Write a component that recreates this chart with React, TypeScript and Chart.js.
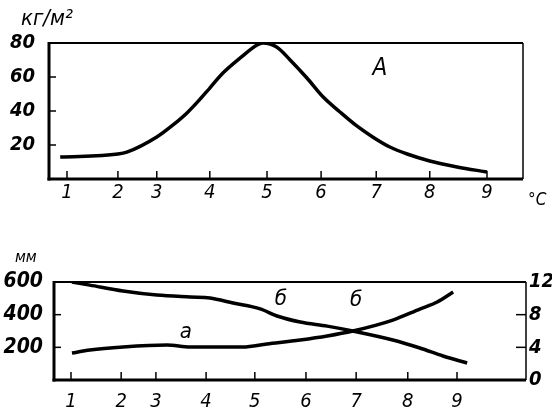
import { useEffect, useRef } from 'react';
import { Chart, registerables } from 'chart.js';
Chart.register(...registerables);

const FONT = '"Liberation Sans Narrow", "DejaVu Sans Condensed", Roboto, sans-serif';

const xTickLabels = ['1', '2', '3', '4', '5', '6', '7', '8', '9'];
const topTickPos = [1, 1.97, 2.71, 3.72, 4.81, 5.84, 6.89, 7.91, 9];
const bottomTickPos = [1, 2.04, 2.76, 3.8, 4.81, 5.87, 6.91, 7.98, 9];

const curveAX = [0.87, 1.97, 2.14, 2.71, 3.02, 3.29, 3.53, 3.72, 3.97, 4.3, 4.62, 4.73, 5.0, 5.25, 5.57, 5.88, 6.2, 6.52, 6.83, 7.15, 7.48, 7.91, 8.43, 9.0];
const curveAY = [12.9, 14.7, 15.8, 24.7, 31.8, 39.0, 46.8, 53.5, 62.3, 71.2, 78.8, 80, 77.5, 70, 59.4, 48.2, 39.4, 31.2, 24.6, 18.8, 14.7, 10.6, 7.1, 4.1];

const curveBX = [1.02, 1.39, 2.08, 2.78, 3.47, 3.88, 4.36, 4.92, 5.27, 5.75, 6.31, 6.84, 7.67, 8.23, 8.71, 9.21];
const curveBY = [600, 581, 545, 520, 508, 502, 471, 435, 392, 355, 330, 300, 245, 196, 147, 104];

const curveCX = [1.02, 1.39, 2.08, 2.99, 3.47, 3.88, 4.56, 5.06, 5.75, 6.31, 6.84, 7.67, 8.23, 8.59, 8.92];
const curveCY = [3.3, 3.67, 4.04, 4.28, 4.04, 4.04, 4.04, 4.41, 4.9, 5.39, 6.0, 7.34, 8.69, 9.55, 10.77];

const topLeftTicks = [20, 40, 60, 80];
const botLeftTicks = [200, 400, 600];
const botRightTicks = [0, 4, 8, 12];

type Note = { t: string; x: number; y: number; axis: string; size: number };
type Fixed = { t: string; px: number; py: number; size: number };

function makeOverlay(notes: Note[], fixed: Fixed[], hasRight: boolean) {
  return {
    id: 'overlay',
    afterDraw(chart: any) {
      const { ctx, chartArea: a, scales } = chart;
      const line = (x1: number, y1: number, x2: number, y2: number, w: number) => {
        ctx.lineWidth = w;
        ctx.beginPath();
        ctx.moveTo(x1, y1);
        ctx.lineTo(x2, y2);
        ctx.stroke();
      };
      ctx.save();
      ctx.strokeStyle = '#000';
      ctx.fillStyle = '#000';
      line(a.left, a.top, a.right, a.top, 2);
      line(a.right, a.top, a.right, a.bottom, 1.5);
      line(a.left, a.top - 1, a.left, a.bottom + 1.5, 3);
      line(a.left - 1.5, a.bottom, a.right, a.bottom, 3);
      scales.x.ticks.forEach((t: any) => {
        const px = scales.x.getPixelForValue(t.value);
        line(px, a.bottom, px, a.bottom - 8, 1.5);
      });
      scales.y.ticks.forEach((t: any) => {
        const py = scales.y.getPixelForValue(t.value);
        line(a.left, py, a.left + 7, py, 1.5);
      });
      if (hasRight && scales.y2) {
        scales.y2.ticks.forEach((t: any) => {
          const py = scales.y2.getPixelForValue(t.value);
          line(a.right, py, a.right - 10, py, 1.5);
        });
      }
      ctx.textAlign = 'center';
      ctx.textBaseline = 'middle';
      notes.forEach((n) => {
        ctx.font = `italic ${n.size}px ${FONT}`;
        ctx.fillText(n.t, scales.x.getPixelForValue(n.x), scales[n.axis].getPixelForValue(n.y));
      });
      ctx.textAlign = 'left';
      fixed.forEach((f) => {
        ctx.font = `italic ${f.size}px ${FONT}`;
        ctx.fillText(f.t, f.px, f.py);
      });
      ctx.restore();
    },
  };
}

function xScale(pos: number[], min: number, max: number, height: number, pad: number) {
  return {
    type: 'linear' as const,
    min,
    max,
    afterBuildTicks: (s: any) => {
      s.ticks = pos.map((v) => ({ value: v }));
    },
    afterFit: (s: any) => {
      s.height = height;
    },
    grid: { display: false, drawTicks: false },
    border: { display: false },
    ticks: {
      autoSkip: false,
      maxRotation: 0,
      padding: pad,
      color: '#000',
      font: { family: FONT, size: 20, style: 'italic' as const },
      callback: (_v: any, i: number) => xTickLabels[i],
    },
  };
}

function yScale(vals: number[], min: number, max: number, width: number, pad: number, position: 'left' | 'right', size: number) {
  return {
    type: 'linear' as const,
    position,
    min,
    max,
    afterBuildTicks: (s: any) => {
      s.ticks = vals.map((v) => ({ value: v }));
    },
    afterFit: (s: any) => {
      s.width = width;
    },
    grid: { display: false, drawTicks: false },
    border: { display: false },
    ticks: {
      padding: pad,
      color: '#000',
      font: { family: FONT, size, style: 'italic' as const, weight: 'bold' as const },
    },
  };
}

const lineStyle = {
  borderColor: '#000',
  borderWidth: 3.5,
  pointRadius: 0,
  cubicInterpolationMode: 'monotone' as const,
  fill: false,
};

export default function App() {
  const topRef = useRef<HTMLCanvasElement>(null);
  const botRef = useRef<HTMLCanvasElement>(null);

  useEffect(() => {
    const c1 = new Chart(topRef.current!, {
      type: 'line',
      data: {
        datasets: [
          { ...lineStyle, data: curveAX.map((x, i) => ({ x, y: curveAY[i] })) },
        ],
      },
      options: {
        animation: false,
        responsive: false,
        layout: { padding: { top: 43, right: 29, left: 0, bottom: 0 } },
        plugins: { legend: { display: false }, tooltip: { enabled: false } },
        scales: {
          x: xScale(topTickPos, 0.657, 9.686, 41, 2),
          y: yScale(topLeftTicks, 0, 80, 49, 14, 'left', 20),
        },
      } as any,
      plugins: [
        makeOverlay(
          [{ t: 'A', x: 6.96, y: 65, axis: 'y', size: 24 }],
          [
            { t: 'кг/м²', px: 21, py: 19, size: 22 },
            { t: '°C', px: 528, py: 201, size: 17 },
          ],
          false
        ),
      ],
    });

    const c2 = new Chart(botRef.current!, {
      type: 'line',
      data: {
        datasets: [
          { ...lineStyle, yAxisID: 'y', data: curveBX.map((x, i) => ({ x, y: curveBY[i] })) },
          { ...lineStyle, yAxisID: 'y2', data: curveCX.map((x, i) => ({ x, y: curveCY[i] })) },
        ],
      },
      options: {
        animation: false,
        responsive: false,
        layout: { padding: { top: 46, right: 0, left: 0, bottom: 0 } },
        plugins: { legend: { display: false }, tooltip: { enabled: false } },
        scales: {
          x: xScale(bottomTickPos, 0.648, 10.43, 32, 10),
          y: yScale(botLeftTicks, 0, 600, 54, 11, 'left', 21),
          y2: yScale(botRightTicks, 0, 12, 26, 3, 'right', 20),
        },
      } as any,
      plugins: [
        makeOverlay(
          [
            { t: 'а', x: 3.38, y: 294, axis: 'y', size: 22 },
            { t: 'б', x: 5.35, y: 496, axis: 'y', size: 22 },
            { t: 'б', x: 6.91, y: 490, axis: 'y', size: 22 },
          ],
          [{ t: 'мм', px: 15, py: 22, size: 16 }],
          true
        ),
      ],
    });

    return () => {
      c1.destroy();
      c2.destroy();
    };
  }, []);

  return (
    <div style={{ position: 'absolute', left: 0, top: 0, width: 552, height: 412, background: '#fff' }}>
      <canvas ref={topRef} width={552} height={220} style={{ position: 'absolute', left: 0, top: 0 }} />
      <canvas ref={botRef} width={552} height={176} style={{ position: 'absolute', left: 0, top: 236 }} />
    </div>
  );
}
